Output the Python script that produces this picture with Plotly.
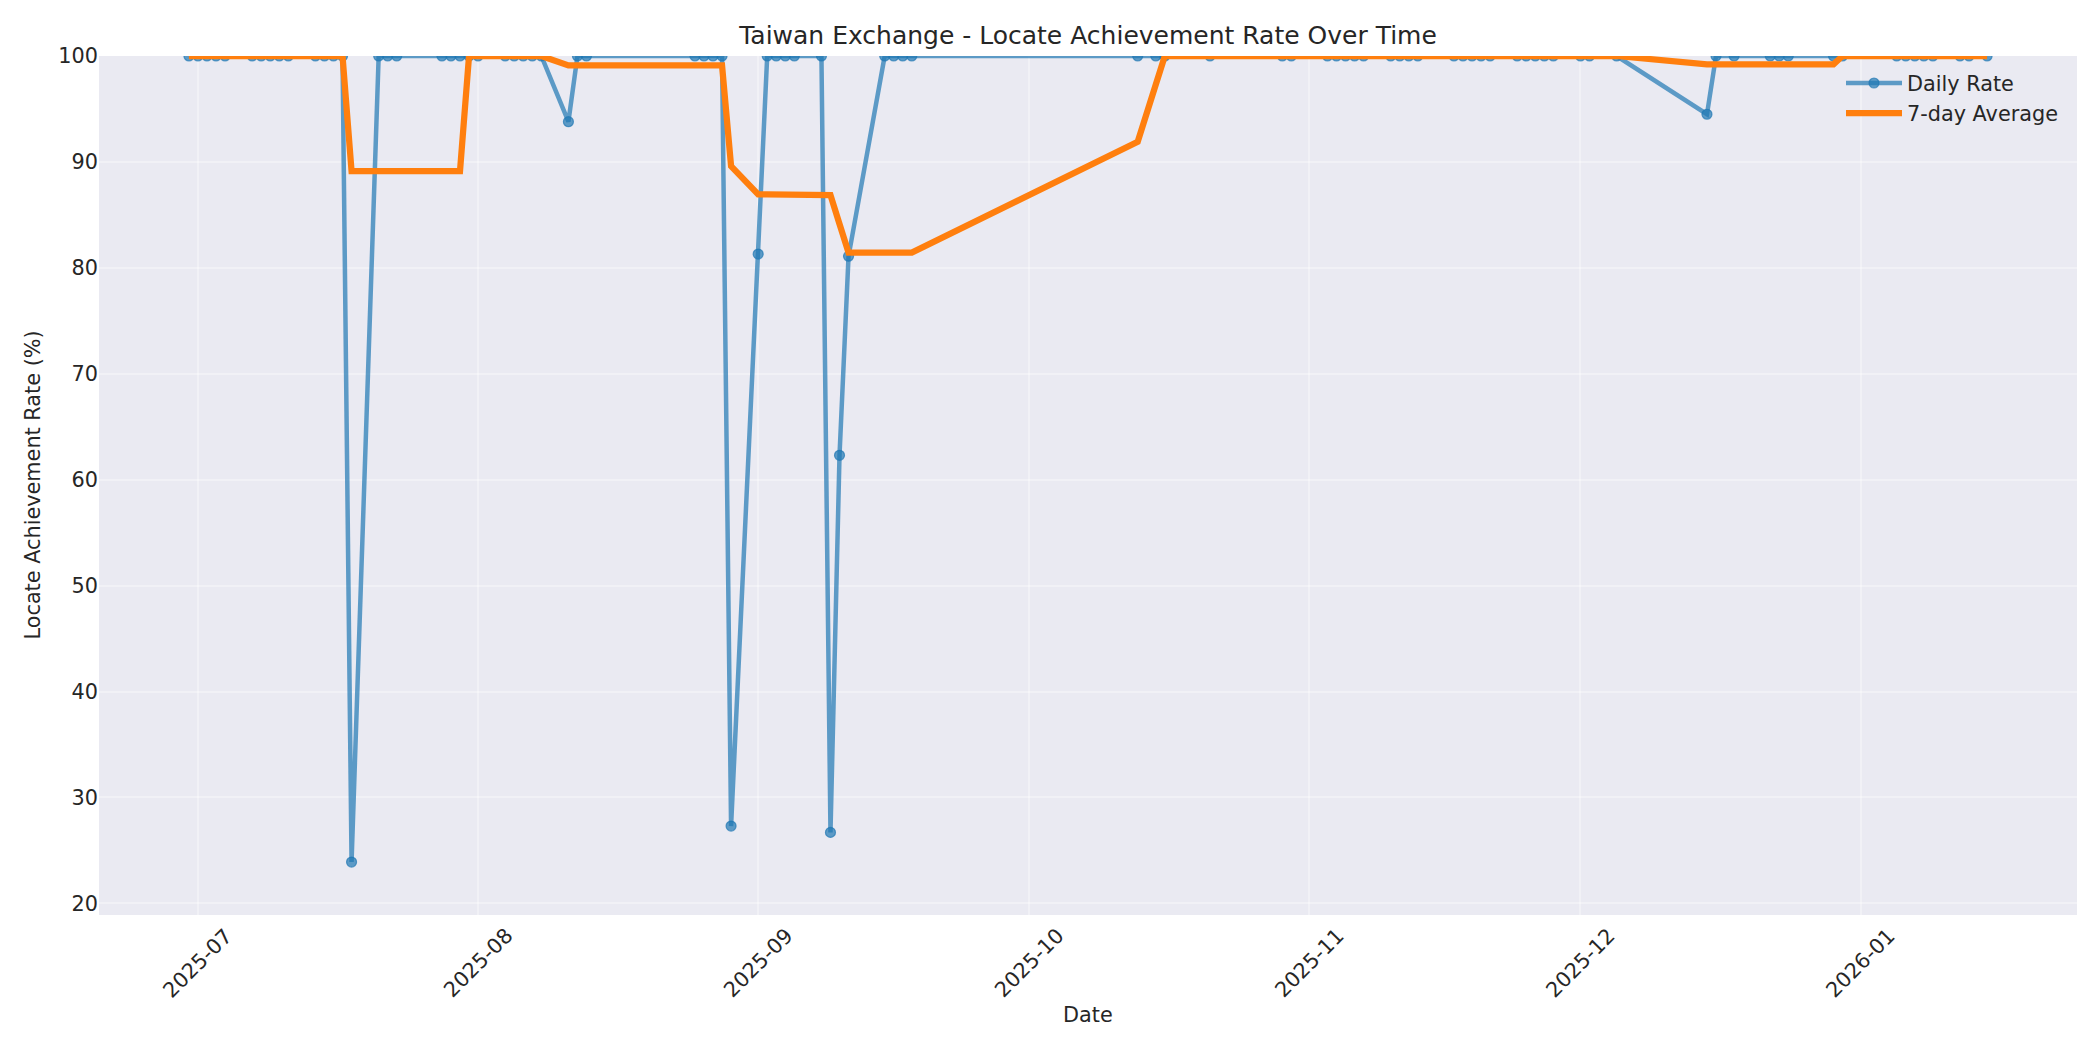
import plotly.graph_objects as go

dates = [
    "2025-06-30", "2025-07-01", "2025-07-02", "2025-07-03", "2025-07-04",
    "2025-07-07", "2025-07-08", "2025-07-09", "2025-07-10", "2025-07-11",
    "2025-07-14", "2025-07-15", "2025-07-16", "2025-07-17", "2025-07-18",
    "2025-07-21", "2025-07-22", "2025-07-23",
    "2025-07-28", "2025-07-29", "2025-07-30", "2025-07-31", "2025-08-01",
    "2025-08-04", "2025-08-05", "2025-08-06", "2025-08-07", "2025-08-08",
    "2025-08-11", "2025-08-12", "2025-08-13",
    "2025-08-25", "2025-08-26", "2025-08-27", "2025-08-28", "2025-08-29",
    "2025-09-01", "2025-09-02", "2025-09-03", "2025-09-04", "2025-09-05",
    "2025-09-08", "2025-09-09", "2025-09-10", "2025-09-11",
    "2025-09-15", "2025-09-16", "2025-09-17", "2025-09-18",
    "2025-10-13", "2025-10-15", "2025-10-16", "2025-10-21",
    "2025-10-29", "2025-10-30",
    "2025-11-03", "2025-11-04", "2025-11-05", "2025-11-06", "2025-11-07",
    "2025-11-10", "2025-11-11", "2025-11-12", "2025-11-13",
    "2025-11-17", "2025-11-18", "2025-11-19", "2025-11-20", "2025-11-21",
    "2025-11-24", "2025-11-25", "2025-11-26", "2025-11-27", "2025-11-28",
    "2025-12-01", "2025-12-02", "2025-12-05",
    "2025-12-15", "2025-12-16", "2025-12-18",
    "2025-12-22", "2025-12-23", "2025-12-24",
    "2025-12-29", "2025-12-30",
    "2026-01-05", "2026-01-06", "2026-01-07", "2026-01-08", "2026-01-09",
    "2026-01-12", "2026-01-13", "2026-01-15",
]

daily_rate = [
    100, 100, 100, 100, 100,
    100, 100, 100, 100, 100,
    100, 100, 100, 100, 23.9,
    100, 100, 100,
    100, 100, 100, 100, 100,
    100, 100, 100, 100, 100,
    93.8, 100, 100,
    100, 100, 100, 100, 27.3,
    81.3, 100, 100, 100, 100,
    100, 26.7, 62.3, 81.1,
    100, 100, 100, 100,
    100, 100, 100, 100,
    100, 100,
    100, 100, 100, 100, 100,
    100, 100, 100, 100,
    100, 100, 100, 100, 100,
    100, 100, 100, 100, 100,
    100, 100, 100,
    94.5, 100, 100,
    100, 100, 100,
    100, 100,
    100, 100, 100, 100, 100,
    100, 100, 100,
]

avg_7day = [
    100, 100, 100, 100, 100,
    100, 100, 100, 100, 100,
    100, 100, 100, 100, 89.13,
    89.13, 89.13, 89.13,
    89.13, 89.13, 89.13, 100, 100,
    100, 100, 100, 100, 100,
    99.11, 99.11, 99.11,
    99.11, 99.11, 99.11, 99.11, 89.61,
    86.94, 86.94, 86.94, 86.94, 86.94,
    86.94, 86.86, 84.14, 81.44,
    81.44, 81.44, 81.44, 81.44,
    91.91, 97.30, 100, 100,
    100, 100,
    100, 100, 100, 100, 100,
    100, 100, 100, 100,
    100, 100, 100, 100, 100,
    100, 100, 100, 100, 100,
    100, 100, 100,
    99.21, 99.21, 99.21,
    99.21, 99.21, 99.21,
    99.21, 100,
    100, 100, 100, 100, 100,
    100, 100, 100,
]

x_tick_dates = ["2025-07-01", "2025-08-01", "2025-09-01", "2025-10-01",
                "2025-11-01", "2025-12-01", "2026-01-01"]
x_tick_labels = ["2025-07", "2025-08", "2025-09", "2025-10",
                 "2025-11", "2025-12", "2026-01"]
y_ticks = [20, 30, 40, 50, 60, 70, 80, 90, 100]

FONT = "DejaVu Sans"
TXT = "#262626"
BLUE = "rgba(31,119,180,0.7)"
W, H = 2084, 1034  # page body has an 8px margin

fig = go.Figure()
fig.add_trace(go.Scatter(
    x=dates, y=daily_rate, mode="lines+markers", name="Daily Rate",
    line=dict(color=BLUE, width=4.5),
    marker=dict(color=BLUE, size=10, line=dict(color=BLUE, width=1.2)),
))
fig.add_trace(go.Scatter(
    x=dates, y=avg_7day, mode="lines", name="7-day Average",
    line=dict(color="#ff7f0e", width=6.25),
))

annotations = []
for d, lab in zip(x_tick_dates, x_tick_labels):
    annotations.append(dict(
        x=d, xref="x", y=0, yref="paper", yshift=-48,
        text=lab, showarrow=False, textangle=-45,
        xanchor="center", yanchor="middle",
        font=dict(family=FONT, size=20.8, color=TXT),
    ))
annotations.append(dict(
    x=0.5, xref="paper", y=0, yref="paper", yshift=-100,
    text="Date", showarrow=False, xanchor="center", yanchor="middle",
    font=dict(family=FONT, size=20.8, color=TXT),
))
annotations.append(dict(
    x=0, xref="paper", y=0.5, yref="paper", xshift=-67,
    text="Locate Achievement Rate (%)", showarrow=False, textangle=-90,
    xanchor="center", yanchor="middle",
    font=dict(family=FONT, size=20.8, color=TXT),
))

fig.update_layout(
    width=W, height=H,
    margin=dict(l=91, r=15, t=48, b=127),
    paper_bgcolor="white",
    plot_bgcolor="#EAEAF2",
    font=dict(family=FONT, size=20.8, color=TXT),
    title=dict(
        text="Taiwan Exchange - Locate Achievement Rate Over Time",
        x=0.5, xref="paper", xanchor="center",
        y=1 - 27 / H, yref="container", yanchor="middle",
        font=dict(family=FONT, size=25, color=TXT),
    ),
    showlegend=True,
    legend=dict(
        x=1 - 13 / 1978, xanchor="right", y=1 - 7 / 859, yanchor="top",
        bgcolor="rgba(0,0,0,0)", borderwidth=0, itemwidth=56,
        font=dict(family=FONT, size=20.8, color=TXT),
    ),
    annotations=annotations,
)
fig.update_xaxes(
    type="date",
    range=["2025-06-20 01:12", "2026-01-24 22:48"],
    tickvals=x_tick_dates, showticklabels=False,
    showgrid=True, gridcolor="rgba(255,255,255,0.35)", gridwidth=2,
    zeroline=False, showline=False, ticks="",
)
fig.update_yaxes(
    range=[18.9, 100],
    tickvals=y_ticks, ticktext=[str(v) for v in y_ticks],
    showgrid=True, gridcolor="rgba(255,255,255,0.35)", gridwidth=2,
    zeroline=False, showline=False, ticks="",
    tickfont=dict(family=FONT, size=20.8, color=TXT),
)

fig.write_html("out.html")
